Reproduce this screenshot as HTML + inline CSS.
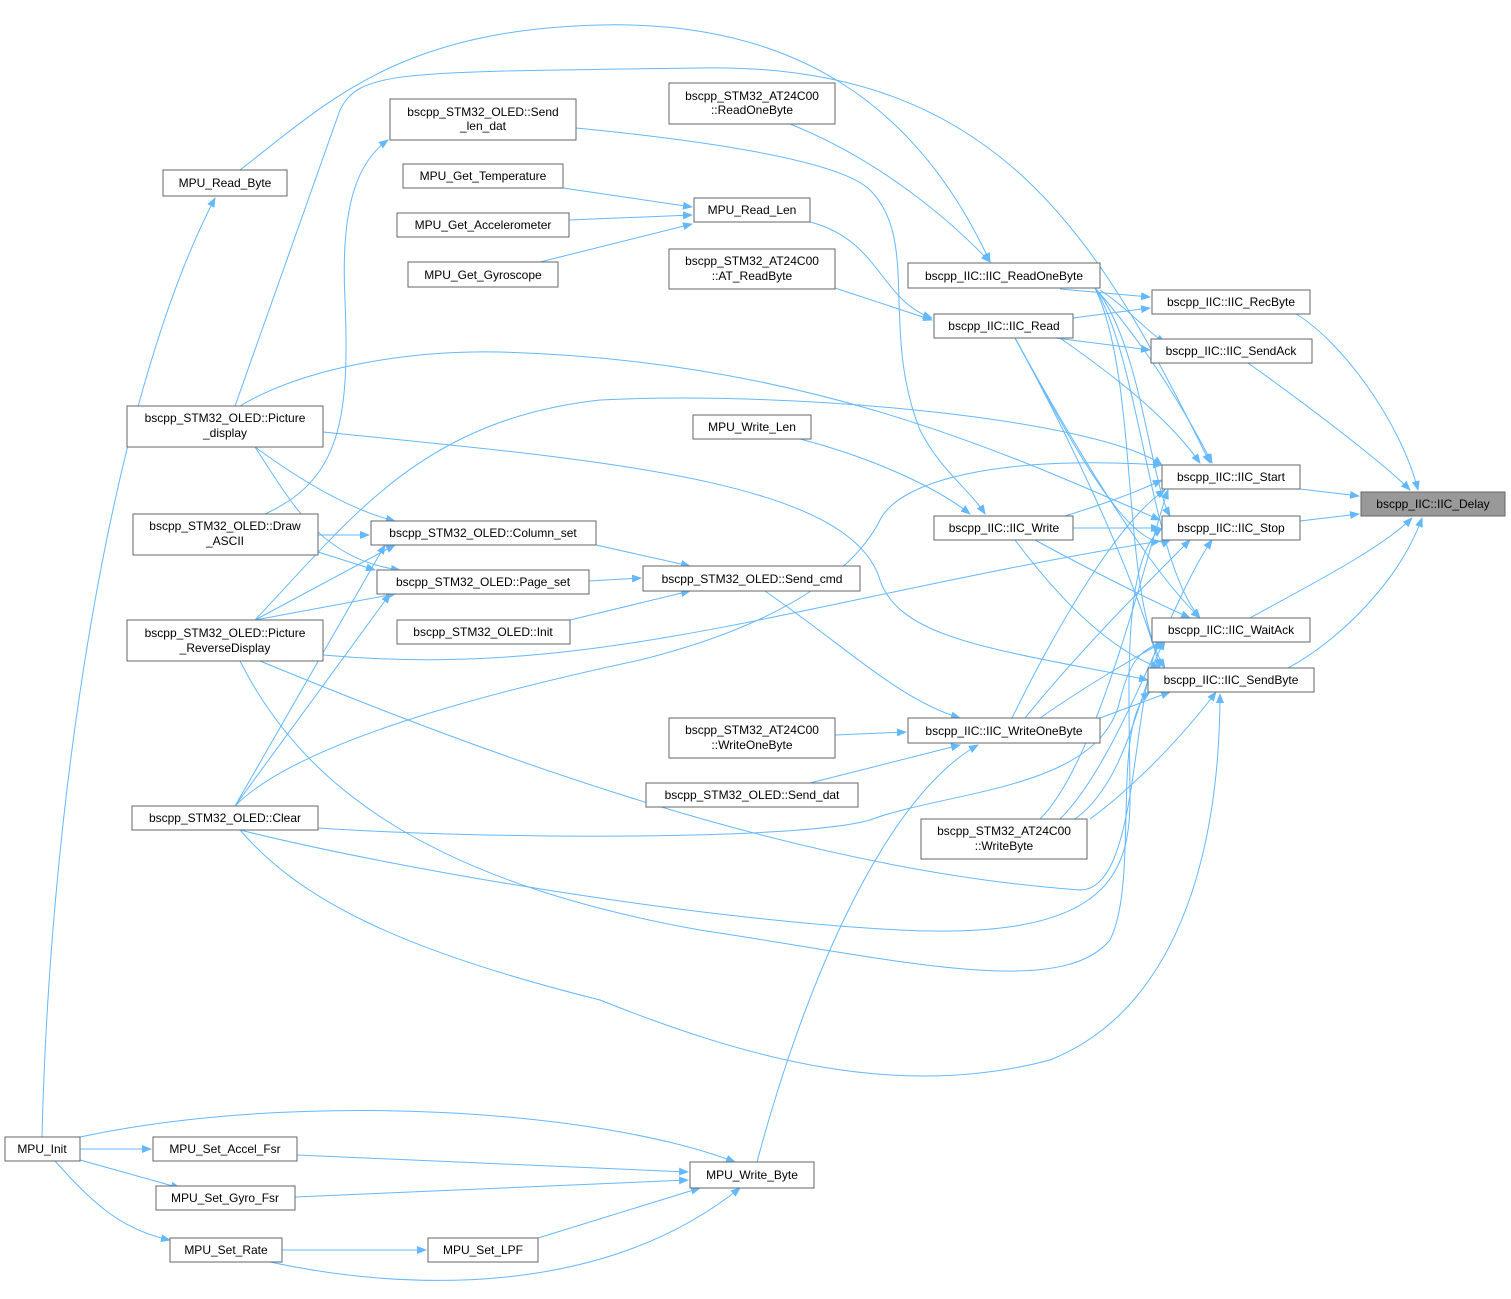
<!DOCTYPE html>
<html><head><meta charset="utf-8"><style>
html,body{margin:0;padding:0;background:#fff}
svg{display:block}
text{font-family:"Liberation Sans",Arial,sans-serif;font-size:12px;fill:#000}
.n{fill:#fff;stroke:#666;stroke-width:1}
.e{fill:none;stroke:#63b8ff;stroke-width:1}
</style></head><body>
<svg width="1511" height="1299" viewBox="0 0 1511 1299" xmlns="http://www.w3.org/2000/svg">
<defs><marker id="a" markerWidth="10" markerHeight="8" refX="9" refY="4" orient="auto" markerUnits="userSpaceOnUse"><path d="M0,0 L10,4 L0,8 z" fill="#63b8ff"/></marker></defs>
<g class="e" marker-end="url(#a)">
<path d="M1296,314 C1340,340 1400,420 1418,490"/>
<path d="M1248,363 C1300,400 1380,460 1410,490"/>
<path d="M1300,489 L1359,496"/>
<path d="M1300,521 L1359,514"/>
<path d="M1250,618 C1300,590 1380,550 1412,518"/>
<path d="M1288,668 C1340,640 1400,580 1422,518"/>
<path d="M1060,289 L1150,297"/>
<path d="M1073,318 L1150,308"/>
<path d="M1100,290 C1130,310 1145,330 1165,343"/>
<path d="M1055,338 L1150,350"/>
<path d="M1095,288 C1150,350 1190,420 1212,463"/>
<path d="M1060,338 C1120,380 1170,420 1200,463"/>
<path d="M1095,288 C1140,340 1150,480 1170,516"/>
<path d="M1095,288 C1140,360 1150,560 1200,618"/>
<path d="M1095,288 C1140,380 1120,600 1165,668"/>
<path d="M1015,338 C1060,420 1130,560 1170,540"/>
<path d="M1015,338 C1060,420 1140,560 1200,618"/>
<path d="M1015,338 C1060,420 1130,560 1160,668"/>
<path d="M1065,516 C1100,505 1130,495 1162,480"/>
<path d="M1073,528 L1160,528"/>
<path d="M1035,540 C1090,570 1150,600 1190,618"/>
<path d="M1015,540 C1060,600 1110,650 1160,668"/>
<path d="M1012,718 C1060,620 1120,520 1165,490"/>
<path d="M1025,718 C1080,650 1150,580 1190,540"/>
<path d="M1040,718 C1080,690 1130,660 1165,641"/>
<path d="M1100,718 L1170,692"/>
<path d="M1040,819 C1100,760 1150,540 1168,490"/>
<path d="M1060,819 C1120,760 1170,600 1212,540"/>
<path d="M1075,819 C1130,780 1140,680 1165,641"/>
<path d="M1090,819 C1130,790 1180,740 1216,692"/>
<path d="M790,124 C880,160 950,220 990,262"/>
<path d="M835,288 L932,320"/>
<path d="M576,128 C700,140 840,160 870,190 C920,240 880,330 920,430 C940,470 970,490 985,514"/>
<path d="M810,222 C880,240 880,300 932,318"/>
<path d="M800,439 C880,460 940,490 970,514"/>
<path d="M835,735 L906,732"/>
<path d="M810,783 L960,745"/>
<path d="M765,591 C850,650 900,700 960,718"/>
<path d="M757,1162 C800,1000 880,800 978,745"/>
<path d="M240,170 C330,100 400,30 600,25 C800,20 920,110 990,262"/>
<path d="M235,406 L340,110 C360,70 400,72 700,68 C1000,62 1100,240 1210,463"/>
<path d="M323,432 C600,460 850,480 880,580 C900,640 1000,650 1148,680"/>
<path d="M240,406 C300,370 400,350 500,352 C800,360 1000,450 1160,520"/>
<path d="M255,447 C300,480 350,510 395,521"/>
<path d="M255,447 C290,500 320,560 400,570"/>
<path d="M255,620 C350,520 420,420 600,400 C800,390 1100,420 1162,465"/>
<path d="M323,655 C600,680 800,600 1160,541"/>
<path d="M260,661 C500,760 800,870 1080,890 C1140,890 1130,700 1160,640"/>
<path d="M240,661 C300,780 420,880 700,930 C900,960 1060,1000 1110,940 C1140,880 1110,720 1150,692"/>
<path d="M240,830 C300,900 400,950 600,1000 C750,1060 900,1100 1050,1060 C1200,1000 1220,800 1220,694"/>
<path d="M240,830 C400,870 700,920 900,930 C1100,940 1130,880 1130,800 C1130,700 1120,560 1162,528"/>
<path d="M235,806 C300,740 500,690 640,660 C800,620 860,560 880,520 C900,480 1000,455 1162,465"/>
<path d="M318,828 C500,840 800,840 870,820 C950,790 1100,790 1120,700 C1130,660 1140,650 1165,641"/>
<path d="M255,620 L395,545"/>
<path d="M235,806 L385,545"/>
<path d="M255,620 L395,594"/>
<path d="M235,806 L390,594"/>
<path d="M318,535 L369,535"/>
<path d="M318,552 L375,570"/>
<path d="M265,514 C340,480 350,420 345,300 C340,200 360,160 388,140"/>
<path d="M596,545 L690,566"/>
<path d="M589,581 L641,578"/>
<path d="M570,620 L690,591"/>
<path d="M563,188 L692,207"/>
<path d="M569,220 L692,215"/>
<path d="M540,262 L692,224"/>
<path d="M42,1137 C50,800 110,400 215,198"/>
<path d="M80,1149 L151,1149"/>
<path d="M80,1160 L180,1188"/>
<path d="M55,1161 C90,1200 120,1230 170,1240"/>
<path d="M80,1137 C300,1090 600,1110 735,1162"/>
<path d="M297,1155 L688,1172"/>
<path d="M295,1197 L688,1180"/>
<path d="M282,1250 L426,1250"/>
<path d="M538,1238 L700,1188"/>
<path d="M270,1262 C400,1290 600,1300 740,1188"/>
</g>
<g>
<rect class="n" x="1361" y="492" width="144" height="24" style="fill:#999"/><text x="1433" y="508" text-anchor="middle">bscpp_IIC::IIC_Delay</text>
<rect class="n" x="1152" y="290" width="158" height="24"/><text x="1231" y="306" text-anchor="middle">bscpp_IIC::IIC_RecByte</text>
<rect class="n" x="1151" y="339" width="161" height="24"/><text x="1231" y="355" text-anchor="middle">bscpp_IIC::IIC_SendAck</text>
<rect class="n" x="1162" y="465" width="138" height="24"/><text x="1231" y="481" text-anchor="middle">bscpp_IIC::IIC_Start</text>
<rect class="n" x="1162" y="516" width="138" height="24"/><text x="1231" y="532" text-anchor="middle">bscpp_IIC::IIC_Stop</text>
<rect class="n" x="1152" y="618" width="158" height="24"/><text x="1231" y="634" text-anchor="middle">bscpp_IIC::IIC_WaitAck</text>
<rect class="n" x="1148" y="668" width="166" height="24"/><text x="1231" y="684" text-anchor="middle">bscpp_IIC::IIC_SendByte</text>
<rect class="n" x="908" y="263" width="192" height="25"/><text x="1004" y="280" text-anchor="middle">bscpp_IIC::IIC_ReadOneByte</text>
<rect class="n" x="934" y="314" width="139" height="24"/><text x="1004" y="330" text-anchor="middle">bscpp_IIC::IIC_Read</text>
<rect class="n" x="934" y="516" width="139" height="24"/><text x="1004" y="532" text-anchor="middle">bscpp_IIC::IIC_Write</text>
<rect class="n" x="908" y="718" width="192" height="25"/><text x="1004" y="735" text-anchor="middle">bscpp_IIC::IIC_WriteOneByte</text>
<rect class="n" x="669" y="83" width="166" height="41"/><text x="752" y="100" text-anchor="middle">bscpp_STM32_AT24C00</text><text x="752" y="114" text-anchor="middle">::ReadOneByte</text>
<rect class="n" x="669" y="249" width="166" height="40"/><text x="752" y="265" text-anchor="middle">bscpp_STM32_AT24C00</text><text x="752" y="280" text-anchor="middle">::AT_ReadByte</text>
<rect class="n" x="669" y="718" width="166" height="40"/><text x="752" y="734" text-anchor="middle">bscpp_STM32_AT24C00</text><text x="752" y="749" text-anchor="middle">::WriteOneByte</text>
<rect class="n" x="646" y="783" width="212" height="24"/><text x="752" y="799" text-anchor="middle">bscpp_STM32_OLED::Send_dat</text>
<rect class="n" x="921" y="819" width="166" height="40"/><text x="1004" y="835" text-anchor="middle">bscpp_STM32_AT24C00</text><text x="1004" y="850" text-anchor="middle">::WriteByte</text>
<rect class="n" x="694" y="198" width="116" height="24"/><text x="752" y="214" text-anchor="middle">MPU_Read_Len</text>
<rect class="n" x="693" y="415" width="118" height="24"/><text x="752" y="431" text-anchor="middle">MPU_Write_Len</text>
<rect class="n" x="390" y="99" width="186" height="41"/><text x="483" y="116" text-anchor="middle">bscpp_STM32_OLED::Send</text><text x="483" y="130" text-anchor="middle">_len_dat</text>
<rect class="n" x="403" y="164" width="160" height="24"/><text x="483" y="180" text-anchor="middle">MPU_Get_Temperature</text>
<rect class="n" x="397" y="213" width="172" height="24"/><text x="483" y="229" text-anchor="middle">MPU_Get_Accelerometer</text>
<rect class="n" x="408" y="262" width="150" height="25"/><text x="483" y="279" text-anchor="middle">MPU_Get_Gyroscope</text>
<rect class="n" x="371" y="521" width="225" height="24"/><text x="483" y="537" text-anchor="middle">bscpp_STM32_OLED::Column_set</text>
<rect class="n" x="377" y="570" width="212" height="24"/><text x="483" y="586" text-anchor="middle">bscpp_STM32_OLED::Page_set</text>
<rect class="n" x="643" y="566" width="217" height="25"/><text x="752" y="583" text-anchor="middle">bscpp_STM32_OLED::Send_cmd</text>
<rect class="n" x="397" y="620" width="173" height="24"/><text x="483" y="636" text-anchor="middle">bscpp_STM32_OLED::Init</text>
<rect class="n" x="163" y="170" width="124" height="26"/><text x="225" y="187" text-anchor="middle">MPU_Read_Byte</text>
<rect class="n" x="127" y="406" width="196" height="41"/><text x="225" y="422" text-anchor="middle">bscpp_STM32_OLED::Picture</text><text x="225" y="437" text-anchor="middle">_display</text>
<rect class="n" x="133" y="514" width="185" height="41"/><text x="225" y="530" text-anchor="middle">bscpp_STM32_OLED::Draw</text><text x="225" y="545" text-anchor="middle">_ASCII</text>
<rect class="n" x="127" y="620" width="196" height="41"/><text x="225" y="637" text-anchor="middle">bscpp_STM32_OLED::Picture</text><text x="225" y="652" text-anchor="middle">_ReverseDisplay</text>
<rect class="n" x="132" y="806" width="186" height="24"/><text x="225" y="822" text-anchor="middle">bscpp_STM32_OLED::Clear</text>
<rect class="n" x="5" y="1137" width="75" height="24"/><text x="42" y="1153" text-anchor="middle">MPU_Init</text>
<rect class="n" x="153" y="1137" width="144" height="24"/><text x="225" y="1153" text-anchor="middle">MPU_Set_Accel_Fsr</text>
<rect class="n" x="156" y="1186" width="139" height="24"/><text x="225" y="1202" text-anchor="middle">MPU_Set_Gyro_Fsr</text>
<rect class="n" x="170" y="1238" width="112" height="24"/><text x="226" y="1254" text-anchor="middle">MPU_Set_Rate</text>
<rect class="n" x="428" y="1238" width="110" height="24"/><text x="483" y="1254" text-anchor="middle">MPU_Set_LPF</text>
<rect class="n" x="690" y="1162" width="124" height="26"/><text x="752" y="1179" text-anchor="middle">MPU_Write_Byte</text>
</g>
</svg>
</body></html>
